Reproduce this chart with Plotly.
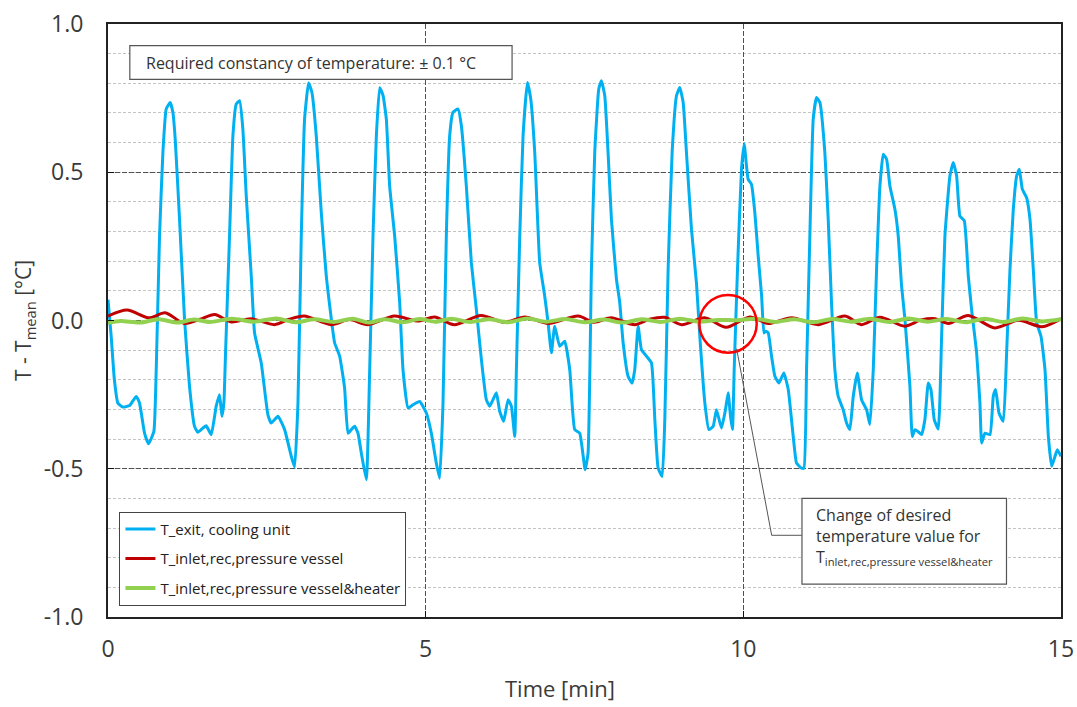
import plotly.graph_objects as go

# ---------------- data ----------------
# T_exit, cooling unit  (time in min, deviation in °C), four pieces
blue_t_a = [0.00, 0.05, 0.10, 0.155, 0.234, 0.339, 0.444, 0.496, 0.575, 0.638, 0.722, 0.759, 0.811, 0.864,
            0.916, 0.979, 1.021, 1.058, 1.126, 1.205, 1.283, 1.362, 1.415, 1.493, 1.546, 1.625, 1.703, 1.756,
            1.793, 1.824, 1.850, 1.913, 1.966, 2.018, 2.071, 2.123, 2.176, 2.255, 2.307, 2.412, 2.517, 2.570,
            2.675, 2.780, 2.885, 2.937, 2.990, 3.042, 3.094, 3.157, 3.210, 3.278, 3.357, 3.436, 3.567, 3.646, 3.724]
blue_v_a = [0.07, -0.053, -0.199, -0.278, -0.292, -0.287, -0.256, -0.278, -0.380, -0.416, -0.374, -0.166, 0.285,
            0.566, 0.713, 0.735, 0.702, 0.611, 0.341, 0.003, -0.222, -0.357, -0.377, -0.363, -0.355, -0.385,
            -0.289, -0.250, -0.323, -0.278, -0.109, 0.285, 0.623, 0.730, 0.741, 0.645, 0.420, 0.150, -0.042,
            -0.143, -0.318, -0.346, -0.323, -0.368, -0.458, -0.494, -0.278, 0.285, 0.679, 0.801, 0.769, 0.623,
            0.364, 0.150, -0.075, -0.120, -0.228]

blue_t_b = [3.777, 3.830, 3.882, 3.935, 3.987, 4.066, 4.119, 4.171, 4.224, 4.276, 4.328, 4.381, 4.433, 4.512,
            4.591, 4.643, 4.722, 4.801, 4.906, 5.011, 5.089, 5.168, 5.220, 5.273, 5.325, 5.378, 5.430, 5.509,
            5.562, 5.640, 5.719, 5.798, 5.877, 5.955, 6.008, 6.113, 6.165, 6.228, 6.297, 6.349, 6.402, 6.428,
            6.481, 6.533, 6.601, 6.654, 6.717, 6.795, 6.874, 6.927, 6.979, 7.031, 7.110, 7.189, 7.268, 7.346, 7.425]
blue_v_b = [-0.380, -0.368, -0.357, -0.380, -0.447, -0.537, -0.166, 0.285, 0.623, 0.785, 0.760, 0.679, 0.454,
            0.285, 0.060, -0.166, -0.295, -0.284, -0.273, -0.312, -0.380, -0.481, -0.532, -0.278, 0.285, 0.623,
            0.702, 0.713, 0.657, 0.454, 0.195, 0.037, -0.132, -0.267, -0.289, -0.244, -0.306, -0.340, -0.267,
            -0.289, -0.391, -0.166, 0.285, 0.623, 0.803, 0.747, 0.566, 0.195, 0.082, -0.008, -0.109, -0.019,
            -0.087, -0.070, -0.166, -0.368, -0.380]

blue_t_c = [7.510, 7.556, 7.609, 7.661, 7.724, 7.766, 7.819, 7.871, 7.924, 8.003, 8.055, 8.108, 8.186, 8.249,
            8.291, 8.344, 8.396, 8.475, 8.554, 8.607, 8.659, 8.722, 8.764, 8.816, 8.879, 8.948, 9.000, 9.053,
            9.105, 9.184, 9.262, 9.315, 9.394, 9.457, 9.525, 9.577, 9.656, 9.719, 9.761, 9.798, 9.829, 9.856,
            9.908, 9.971, 10.014, 10.050, 10.076, 10.129, 10.181, 10.234, 10.288, 10.324, 10.350, 10.392, 10.444,
            10.497, 10.560, 10.638, 10.707, 10.785, 10.838, 10.916, 10.953, 10.995, 11.047, 11.100, 11.152,
            11.205, 11.283]
blue_v_c = [-0.503, -0.447, 0.172, 0.566, 0.780, 0.809, 0.758, 0.566, 0.341, 0.139, 0.060, -0.075, -0.188,
            -0.211, -0.166, -0.019, -0.098, -0.120, -0.143, -0.334, -0.498, -0.526, -0.334, 0.172, 0.566, 0.758,
            0.786, 0.735, 0.566, 0.307, 0.127, -0.053, -0.278, -0.368, -0.357, -0.301, -0.363, -0.301, -0.244,
            -0.323, -0.368, -0.166, 0.172, 0.510, 0.595, 0.521, 0.476, 0.459, 0.364, 0.217, 0.082, -0.042,
            -0.036, -0.042, -0.120, -0.188, -0.211, -0.177, -0.233, -0.391, -0.481, -0.498, -0.498, -0.166,
            0.285, 0.679, 0.752, 0.735, 0.566]

blue_t_d = [11.336, 11.388, 11.441, 11.493, 11.572, 11.625, 11.677, 11.730, 11.793, 11.861, 11.940, 11.992,
            12.045, 12.097, 12.150, 12.202, 12.255, 12.307, 12.386, 12.438, 12.491, 12.544, 12.622, 12.659,
            12.701, 12.753, 12.806, 12.858, 12.911, 12.953, 13.005, 13.068, 13.121, 13.173, 13.252, 13.304,
            13.357, 13.409, 13.478, 13.541, 13.593, 13.672, 13.724, 13.751, 13.803, 13.882, 13.934, 13.971,
            14.024, 14.092, 14.144, 14.197, 14.249, 14.302, 14.344, 14.391, 14.459, 14.512, 14.564, 14.617,
            14.685, 14.748, 14.801, 14.853, 14.906, 14.942, 15.000]
blue_v_d = [0.341, 0.060, -0.166, -0.256, -0.301, -0.346, -0.368, -0.256, -0.177, -0.267, -0.301, -0.351,
            -0.166, 0.172, 0.454, 0.561, 0.544, 0.454, 0.375, 0.285, 0.116, 0.003, -0.222, -0.391, -0.368,
            -0.375, -0.385, -0.334, -0.211, -0.233, -0.334, -0.366, -0.053, 0.285, 0.488, 0.533, 0.488, 0.352,
            0.336, 0.150, 0.037, -0.109, -0.278, -0.413, -0.380, -0.385, -0.256, -0.233, -0.312, -0.340, -0.109,
            0.172, 0.375, 0.488, 0.510, 0.443, 0.414, 0.341, 0.172, -0.008, -0.053, -0.166, -0.391, -0.492,
            -0.458, -0.436, -0.458]

# T_inlet,rec,pressure vessel
red_t = [0.0, 0.3, 0.65, 0.9, 1.2, 1.45, 1.68, 1.94, 2.25, 2.62, 2.85, 3.09, 3.51, 3.8, 4.09, 4.51, 4.88, 5.14,
         5.45, 5.87, 6.24, 6.56, 6.93, 7.4, 7.65, 7.92, 8.29, 8.52, 8.76, 9.03, 9.39, 9.73, 10.1, 10.39, 10.76,
         11.18, 11.6, 11.86, 12.15, 12.54, 12.8, 13.02, 13.23, 13.54, 13.96, 14.33, 14.7, 15.0]
red_v = [0.015, 0.035, 0.009, 0.026, -0.010, 0.004, 0.020, -0.005, 0.006, -0.014, 0.004, 0.015, -0.014, 0.003,
         -0.014, 0.015, -0.002, 0.012, -0.014, 0.017, -0.006, 0.012, -0.010, 0.015, -0.006, 0.009, -0.014, 0.004,
         0.011, -0.014, 0.009, -0.023, 0.012, -0.010, 0.009, -0.014, 0.015, -0.014, 0.011, -0.019, 0.002, 0.006,
         -0.010, 0.017, -0.025, 0.001, -0.021, 0.006]

# T_inlet,rec,pressure vessel&heater
green_t = [0.0, 0.2, 0.5, 0.8, 1.1, 1.35, 1.6, 1.95, 2.3, 2.65, 2.95, 3.25, 3.55, 3.85, 4.1, 4.35, 4.65, 4.9,
           5.15, 5.4, 5.7, 6.0, 6.3, 6.6, 6.9, 7.2, 7.5, 7.8, 8.1, 8.4, 8.7, 9.0, 9.3, 9.6, 9.9, 10.2, 10.5,
           10.8, 11.1, 11.4, 11.7, 12.0, 12.3, 12.6, 12.9, 13.2, 13.5, 13.8, 14.1, 14.4, 14.7, 15.0]
green_v = [-0.008, -0.002, -0.007, 0.004, -0.007, 0.003, -0.005, 0.006, -0.004, 0.007, -0.006, 0.004, -0.005,
           0.006, -0.007, 0.004, -0.006, 0.005, -0.004, 0.006, -0.005, 0.004, -0.006, 0.007, -0.004, 0.005,
           -0.006, 0.003, -0.007, 0.004, -0.005, 0.006, -0.004, 0.002, 0.001, 0.006, -0.005, 0.004, -0.006,
           0.005, -0.004, 0.006, -0.005, 0.007, -0.004, 0.005, -0.006, 0.006, -0.005, 0.007, -0.003, 0.004]

series_names = ["T_exit, cooling unit", "T_inlet,rec,pressure vessel", "T_inlet,rec,pressure vessel&heater"]
y_tick_values = [-1.0, -0.5, 0.0, 0.5, 1.0]
y_tick_labels = ["-1.0", "-0.5", "0.0", "0.5", "1.0"]
x_tick_values = [0, 5, 10, 15]
x_tick_labels = ["0", "5", "10", "15"]

for a, b in [(blue_t_a, blue_v_a), (blue_t_b, blue_v_b), (blue_t_c, blue_v_c), (blue_t_d, blue_v_d),
             (red_t, red_v), (green_t, green_v)]:
    assert len(a) == len(b), (len(a), len(b))

blue_t = blue_t_a + blue_t_b + blue_t_c + blue_t_d
blue_v = blue_v_a + blue_v_b + blue_v_c + blue_v_d

FONT = "Open Sans"
TXT = "#3a3a3a"

fig = go.Figure()
fig.add_trace(go.Scatter(x=blue_t, y=blue_v, mode="lines", name=series_names[0], legendgroup="a",
                         line=dict(color="#00B0F0", width=3, shape="spline", smoothing=0.4)))
fig.add_trace(go.Scatter(x=red_t, y=red_v, mode="lines", name=series_names[1], legendgroup="b",
                         line=dict(color="#C00000", width=3, shape="spline", smoothing=0.8)))
fig.add_trace(go.Scatter(x=green_t, y=green_v, mode="lines", name=series_names[2], legendgroup="c",
                         line=dict(color="#92D050", width=4, shape="spline", smoothing=0.8)))

fig.update_layout(
    width=1077, height=707,
    margin=dict(l=108, r=16, t=24, b=90, autoexpand=False),
    paper_bgcolor="white", plot_bgcolor="white",
    font=dict(family=FONT, color=TXT),
    showlegend=True,
    legend=dict(x=0.012, y=0.019, xanchor="left", yanchor="bottom",
                bgcolor="white", bordercolor="#444", borderwidth=1,
                font=dict(family=FONT, size=15, color="#222"),
                tracegroupgap=7, itemwidth=30),
)

fig.update_xaxes(
    range=[0, 15], tickvals=x_tick_values, ticktext=x_tick_labels, ticks="inside", ticklen=6, tickcolor="#111",
    showline=True, linecolor="#222", linewidth=2, mirror=True, zeroline=False,
    showgrid=True, gridcolor="#505050", gridwidth=1, griddash="5px,2px",
    tickfont=dict(family=FONT, size=23, color=TXT), ticklabelstandoff=10,
)
fig.update_yaxes(
    range=[-1, 1], tickvals=y_tick_values, ticktext=y_tick_labels, ticks="inside", ticklen=6, tickcolor="#111",
    showline=True, linecolor="#222", linewidth=2, mirror=True, zeroline=False,
    showgrid=True, gridcolor="#505050", gridwidth=1.2, griddash="5px,2px",
    minor=dict(dtick=0.1, tick0=0, showgrid=True, gridcolor="#c4c4c4", gridwidth=1, griddash="3px,2px", ticks=""),
    tickfont=dict(family=FONT, size=23, color=TXT), ticklabelstandoff=18,
    title=dict(text="T - T<sub>mean</sub> [°C]", font=dict(family=FONT, size=21, color=TXT), standoff=6),
)

# x axis title (placed slightly left of centre, as in the reference)
fig.add_annotation(xref="paper", yref="paper", x=0.474, y=-0.119, xanchor="center", yanchor="middle",
                   text="Time [min]", showarrow=False, font=dict(family=FONT, size=22, color=TXT))

# text box: required constancy
fig.add_shape(type="rect", xref="paper", yref="paper", x0=0.0229, x1=0.424, y0=0.9067, y1=0.9634,
              line=dict(color="#555", width=1.2), fillcolor="white", layer="above")
fig.add_annotation(xref="paper", yref="paper", x=0.0375, y=0.935, xanchor="left", yanchor="middle",
                   text="Required constancy of temperature: ± 0.1 °C", showarrow=False,
                   font=dict(family=FONT, size=16, color="#333"))

# circle around set-point change
fig.add_shape(type="circle", xref="paper", yref="paper", x0=0.6205, x1=0.6807, y0=0.4457, y1=0.5430,
              line=dict(color="#FF0000", width=2.5), layer="above")
# leader line
fig.add_shape(type="path", xref="paper", yref="paper",
              path="M 0.6596 0.4525 L 0.6964 0.1378 L 0.7282 0.1378",
              line=dict(color="#555", width=1), layer="above")
# second text box
fig.add_shape(type="rect", xref="paper", yref="paper", x0=0.7282, x1=0.9428, y0=0.0556, y1=0.2002,
              line=dict(color="#555", width=1.2), fillcolor="white", layer="above")
fig.add_annotation(xref="paper", yref="paper", x=0.7408, y=0.194, xanchor="left", yanchor="top", align="left",
                   text="Change of desired<br>temperature value for<br>T<sub>inlet,rec,pressure vessel&heater</sub>",
                   showarrow=False, font=dict(family=FONT, size=16, color="#333"))

fig.write_html("out.html")
